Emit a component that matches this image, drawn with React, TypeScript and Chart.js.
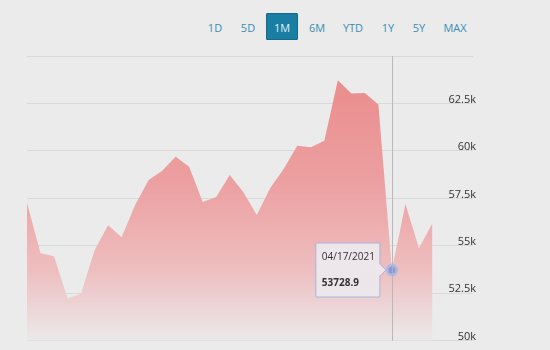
import React, { useEffect, useRef } from "react";
import { Chart, registerables } from "chart.js";

Chart.register(...registerables);

const DATES: string[] = [
  "03/21/2021", "03/22/2021", "03/23/2021", "03/24/2021", "03/25/2021",
  "03/26/2021", "03/27/2021", "03/28/2021", "03/29/2021", "03/30/2021",
  "03/31/2021", "04/01/2021", "04/02/2021", "04/03/2021", "04/04/2021",
  "04/05/2021", "04/06/2021", "04/07/2021", "04/08/2021", "04/09/2021",
  "04/10/2021", "04/11/2021", "04/12/2021", "04/13/2021", "04/14/2021",
  "04/15/2021", "04/16/2021", "04/17/2021", "04/18/2021", "04/19/2021",
  "04/20/2021",
];

const PRICES: number[] = [
  57256, 54608, 54449, 52225, 52489, 54767, 56091, 55456, 57150, 58475,
  58951, 59693, 59163, 57309, 57574, 58739, 57839, 56621, 58051, 59057,
  60275, 60196, 60540, 63718, 63030, 63056, 62447, 53728.9, 57203, 54873,
  56197,
];

const X_TICK_INDICES: number[] = [1, 8, 15, 22, 29];
const X_TICK_LABELS: string[] = ["03/22", "03/29", "04/05", "04/12", "04/19"];

const Y_TICKS: number[] = [50000, 52500, 55000, 57500, 60000, 62500, 65000];
const Y_TICK_LABELS: string[] = ["50k", "52.5k", "55k", "57.5k", "60k", "62.5k", ""];

const RANGE_BUTTONS: string[] = ["1D", "5D", "1M", "6M", "YTD", "1Y", "5Y", "MAX"];
const ACTIVE_RANGE = "1M";
const ACTIVE_INDEX = 27;

const BUTTON_CENTERS = [215, 248, 282, 317, 353, 388, 419, 455];

const crosshairPlugin = {
  id: "crosshair",
  afterDatasetsDraw(chart: any) {
    const active = chart.getActiveElements();
    if (!active.length) return;
    const el = chart.getDatasetMeta(0).data[active[0].index];
    const { ctx, chartArea } = chart;
    ctx.save();
    ctx.strokeStyle = "rgba(180,180,180,0.9)";
    ctx.lineWidth = 1;
    ctx.beginPath();
    const x = Math.round(el.x) + 0.5;
    ctx.moveTo(x, chartArea.top);
    ctx.lineTo(x, chartArea.bottom);
    ctx.stroke();
    ctx.restore();
  },
};

export default function App() {
  const canvasRef = useRef<HTMLCanvasElement | null>(null);

  useEffect(() => {
    if (!canvasRef.current) return;
    const chart = new Chart(canvasRef.current, {
      type: "line",
      data: {
        labels: DATES,
        datasets: [
          {
            data: PRICES.map((v, i) => ({ x: i, y: v })),
            fill: "start",
            borderWidth: 0,
            borderColor: "rgba(234,140,141,0)",
            tension: 0,
            pointRadius: 0,
            pointHoverRadius: 5,
            pointHoverBorderWidth: 3,
            pointHoverBackgroundColor: "#8e98d4",
            pointHoverBorderColor: "rgba(176,186,228,0.9)",
            backgroundColor: (c: any) => {
              const { chart: ch } = c;
              const area = ch.chartArea;
              if (!area) return "rgba(234,140,141,0.8)";
              const g = ch.ctx.createLinearGradient(0, area.top, 0, area.bottom);
              g.addColorStop(0, "rgba(234,136,137,1)");
              g.addColorStop(0.45, "rgba(236,160,161,1)");
              g.addColorStop(0.75, "rgba(238,190,191,1)");
              g.addColorStop(1, "rgba(235,233,234,1)");
              return g;
            },
          } as any,
        ],
      },
      options: {
        animation: false,
        responsive: false,
        events: [],
        layout: { padding: { left: 27, right: 71, top: 56, bottom: 0 } },
        scales: {
          x: {
            type: "linear",
            min: 0,
            max: 33,
            grid: { display: false },
            border: { display: false },
            afterBuildTicks: (axis: any) => {
              axis.ticks = X_TICK_INDICES.map((v) => ({ value: v }));
            },
            ticks: {
              padding: 2,
              autoSkip: false,
              maxRotation: 0,
              color: "#8f8f8f",
              font: { family: "Open Sans", size: 11 },
              callback: (v: any) => {
                const i = X_TICK_INDICES.indexOf(Number(v));
                return i >= 0 ? X_TICK_LABELS[i] : "";
              },
            },
          },
          y: {
            type: "linear",
            position: "right",
            min: 50000,
            max: 65000,
            afterBuildTicks: (axis: any) => {
              axis.ticks = Y_TICKS.map((v) => ({ value: v }));
            },
            grid: { color: "#d9d9d9", drawTicks: false, lineWidth: 1 },
            border: { display: false },
            ticks: {
              mirror: true,
              padding: 3,
              labelOffset: -4,
              color: "#333333",
              font: { family: "Open Sans", size: 11 },
              callback: (v: any) => {
                const i = Y_TICKS.indexOf(Number(v));
                return i >= 0 ? Y_TICK_LABELS[i] : "";
              },
            },
          },
        },
        plugins: {
          legend: { display: false },
          tooltip: {
            enabled: true,
            xAlign: "right",
            yAlign: "center",
            backgroundColor: "rgba(236,232,236,0.95)",
            borderColor: "#a9b3dc",
            borderWidth: 1,
            cornerRadius: 1,
            caretSize: 6,
            caretPadding: 6,
            padding: { top: 8, bottom: 8, left: 6, right: 5 },
            displayColors: false,
            titleColor: "#333333",
            bodyColor: "#333333",
            titleFont: { family: "Open Sans", size: 10, weight: "normal" },
            bodyFont: { family: "Open Sans", size: 10, weight: "bold" },
            titleMarginBottom: 14,
            callbacks: {
              title: (items: any[]) => DATES[items[0].dataIndex],
              label: (item: any) => String(PRICES[item.dataIndex]),
            },
          },
        },
      },
      plugins: [crosshairPlugin],
    } as any);

    const el: any = chart.getDatasetMeta(0).data[ACTIVE_INDEX];
    chart.setActiveElements([{ datasetIndex: 0, index: ACTIVE_INDEX }]);
    chart.tooltip?.setActiveElements([{ datasetIndex: 0, index: ACTIVE_INDEX }], {
      x: el.x,
      y: el.y,
    });
    chart.update();

    return () => chart.destroy();
  }, []);

  return (
    <div
      style={{
        position: "absolute",
        left: 0,
        top: 0,
        width: 550,
        height: 350,
        overflow: "hidden",
        background: "#ebebeb",
        fontFamily: "Open Sans, sans-serif",
      }}
    >
      {RANGE_BUTTONS.map((b, i) => {
        const active = b === ACTIVE_RANGE;
        return (
          <div
            key={b}
            style={{
              position: "absolute",
              left: BUTTON_CENTERS[i] - 16,
              top: 13,
              width: 32,
              height: 27,
              lineHeight: "27px",
              textAlign: "center",
              fontSize: 11,
              boxSizing: "border-box",
              color: active ? "#dff1f8" : "#3a8db3",
              background: active ? "#1a7ea4" : "transparent",
              border: active ? "1px solid #156a8a" : "1px solid transparent",
              borderRadius: 1,
            }}
          >
            {b}
          </div>
        );
      })}
      <canvas
        ref={canvasRef}
        width={550}
        height={366}
        style={{ position: "absolute", left: 0, top: 0, width: 550, height: 366 }}
      />
    </div>
  );
}
